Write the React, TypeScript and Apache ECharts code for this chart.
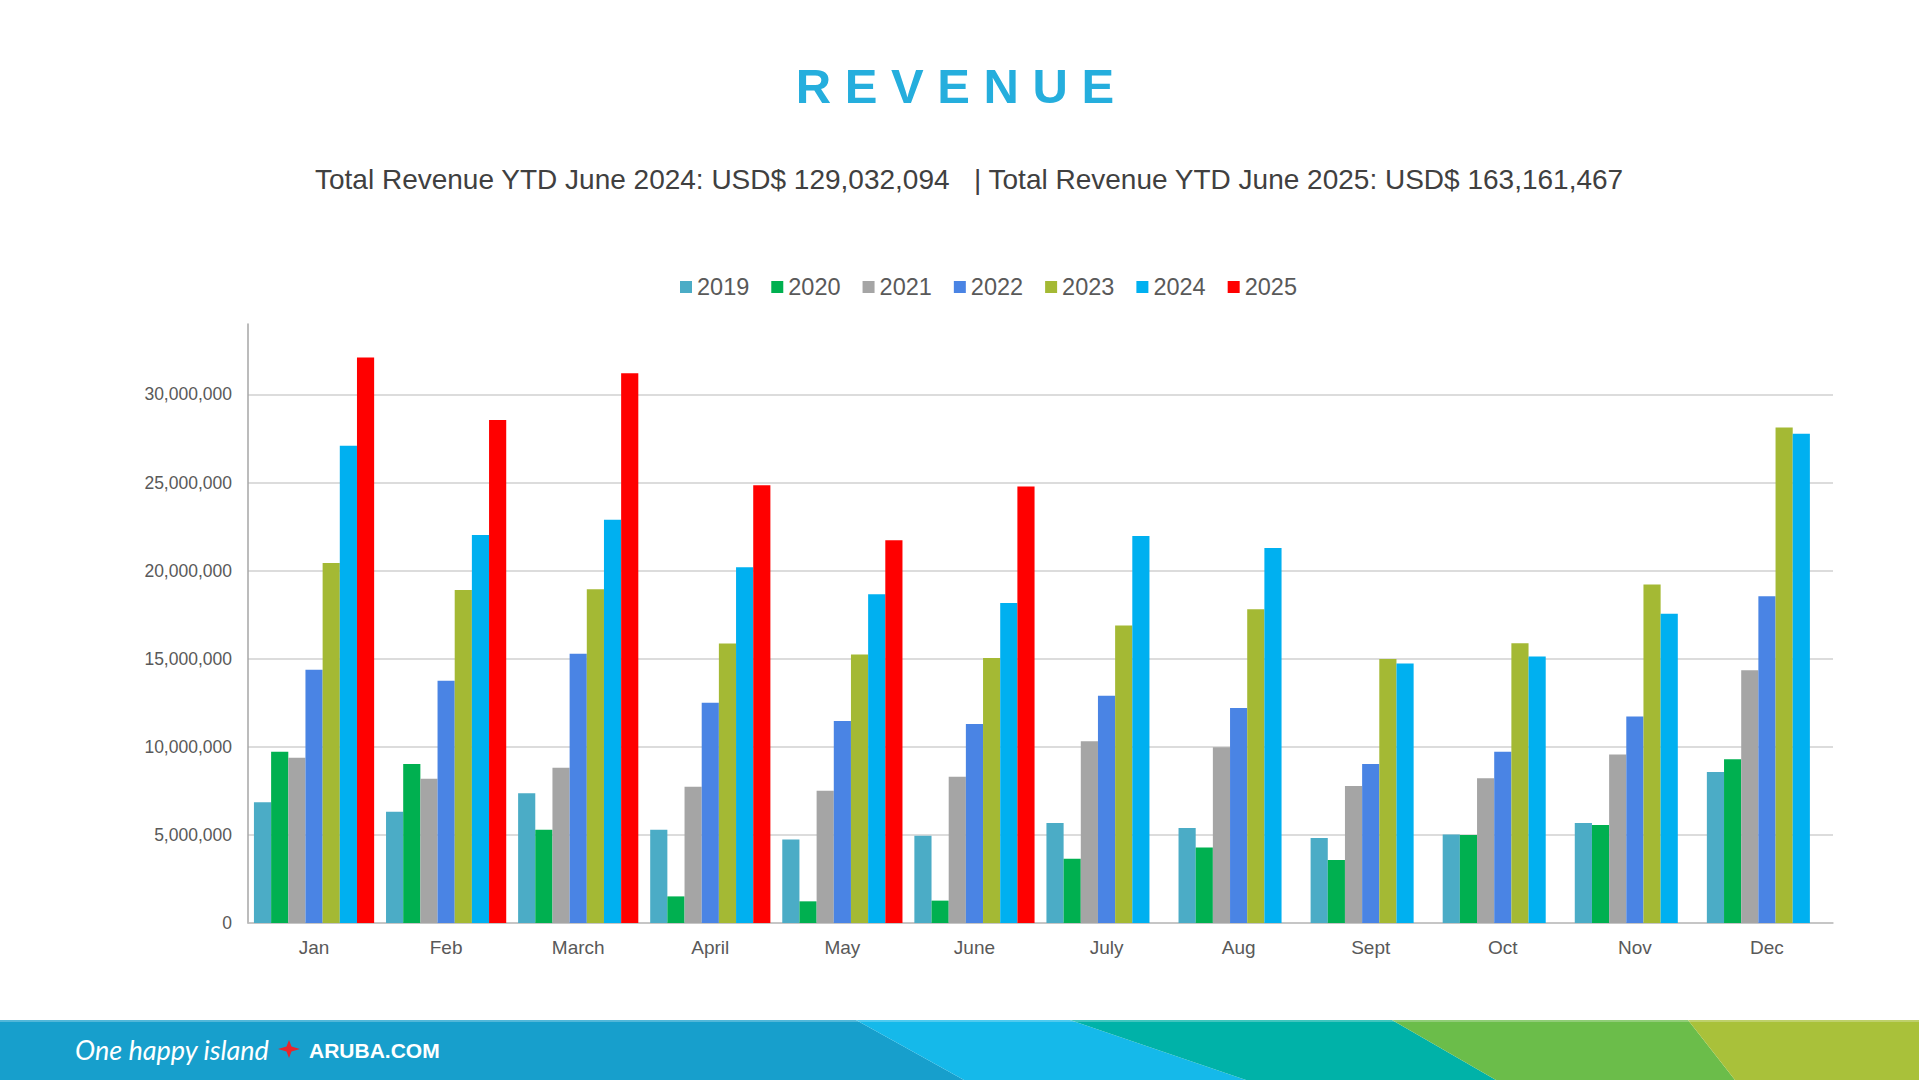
import React, { useEffect, useRef } from 'react';
import * as echarts from 'echarts';

const months = ['Jan', 'Feb', 'March', 'April', 'May', 'June', 'July', 'Aug', 'Sept', 'Oct', 'Nov', 'Dec'];
const years = ['2019', '2020', '2021', '2022', '2023', '2024', '2025'];
const colors = ['#4bacc6', '#00b050', '#a5a5a5', '#4a84e4', '#a4b934', '#00b0f0', '#ff0000'];

const rev2019 = [6860000, 6310000, 7370000, 5290000, 4740000, 4950000, 5670000, 5390000, 4820000, 5030000, 5670000, 8570000];
const rev2020 = [9720000, 9020000, 5290000, 1510000, 1230000, 1270000, 3650000, 4290000, 3570000, 4990000, 5560000, 9290000];
const rev2021 = [9380000, 8190000, 8810000, 7730000, 7500000, 8300000, 10310000, 9970000, 7770000, 8210000, 9570000, 14350000];
const rev2022 = [14380000, 13750000, 15280000, 12500000, 11460000, 11300000, 12900000, 12200000, 9020000, 9720000, 11720000, 18550000];
const rev2023 = [20430000, 18900000, 18940000, 15870000, 15240000, 15040000, 16890000, 17810000, 14980000, 15880000, 19210000, 28120000];
const rev2024 = [27090000, 22020000, 22890000, 20190000, 18660000, 18170000, 21960000, 21290000, 14730000, 15130000, 17550000, 27770000];
const rev2025 = [32100000, 28550000, 31210000, 24850000, 21720000, 24780000, null, null, null, null, null, null];

const seriesValues = [rev2019, rev2020, rev2021, rev2022, rev2023, rev2024, rev2025];

const titleText = 'R E V E N U E';
const subtitleLeft = 'Total Revenue YTD June 2024: USD$ 129,032,094';
const subtitleRight = '| Total Revenue YTD June 2025: USD$ 163,161,467';

const FONT = '"Liberation Sans", Arial, sans-serif';

export default function App() {
  const ref = useRef<HTMLDivElement>(null);

  useEffect(() => {
    const chart = echarts.init(ref.current as HTMLDivElement, null, { renderer: 'svg' });
    const option: any = {
      animation: false,
      backgroundColor: '#ffffff',
      textStyle: { fontFamily: FONT },
      legend: {
        data: years,
        left: 675,
        top: 270,
        icon: 'rect',
        itemWidth: 12,
        itemHeight: 12,
        itemGap: 22,
        textStyle: { color: '#595959', fontSize: 23.5, fontFamily: FONT },
      },
      grid: { left: 248, right: 86, top: 324, bottom: 157 },
      xAxis: {
        type: 'category',
        data: months,
        axisLine: { show: true, lineStyle: { color: '#bfbfbf', width: 1.5 } },
        axisTick: { show: false },
        axisLabel: { color: '#595959', fontSize: 19, margin: 15, fontFamily: FONT },
      },
      yAxis: {
        type: 'value',
        min: 0,
        max: 34000000,
        interval: 5000000,
        axisLine: { show: true, lineStyle: { color: '#a6a6a6', width: 1.5 } },
        axisTick: { show: false },
        axisLabel: {
          color: '#595959',
          fontSize: 17.5,
          margin: 16,
          fontFamily: FONT,
          formatter: (v: number) => (v % 5000000 === 0 ? v.toLocaleString('en-US') : ''),
        },
        splitLine: { show: true, showMaxLine: false, lineStyle: { color: '#d0d0d0', width: 1.5 } },
      },
      series: years.map((y, i) => ({
        type: 'bar',
        name: y,
        data: seriesValues[i],
        barGap: '0%',
        barCategoryGap: '9%',
        itemStyle: { color: colors[i] },
      })),
      graphic: [
        {
          type: 'text',
          x: 955,
          y: 86,
          style: {
            text: titleText,
            fontSize: 49,
            fontWeight: 'bold',
            fontFamily: FONT,
            fill: '#25aedd',
            align: 'center',
            textAlign: 'center',
            verticalAlign: 'middle',
            textVerticalAlign: 'middle',
          },
        },
        {
          type: 'text',
          x: 315,
          y: 179,
          style: {
            text: subtitleLeft,
            fontSize: 28,
            fontFamily: FONT,
            fill: '#404040',
            align: 'left',
            textAlign: 'left',
            verticalAlign: 'middle',
            textVerticalAlign: 'middle',
          },
        },
        {
          type: 'text',
          x: 974,
          y: 179,
          style: {
            text: subtitleRight,
            fontSize: 28,
            fontFamily: FONT,
            fill: '#404040',
            align: 'left',
            textAlign: 'left',
            verticalAlign: 'middle',
            textVerticalAlign: 'middle',
          },
        },
        {
          type: 'polygon',
          shape: { points: [[0, 1020], [856, 1020], [964, 1080], [0, 1080]] },
          style: { fill: '#179fcc' },
        },
        {
          type: 'polygon',
          shape: { points: [[856, 1020], [1070, 1020], [1246, 1080], [964, 1080]] },
          style: { fill: '#15b9ea' },
        },
        {
          type: 'polygon',
          shape: { points: [[1070, 1020], [1392, 1020], [1496, 1080], [1246, 1080]] },
          style: { fill: '#00b2a8' },
        },
        {
          type: 'polygon',
          shape: { points: [[1392, 1020], [1688, 1020], [1735, 1080], [1496, 1080]] },
          style: { fill: '#6bbd4a' },
        },
        {
          type: 'polygon',
          shape: { points: [[1688, 1020], [1919, 1020], [1919, 1080], [1735, 1080]] },
          style: { fill: '#a9c13a' },
        },
        {
          type: 'rect',
          shape: { x: 0, y: 1020, width: 1919, height: 2 },
          style: { fill: 'rgba(255,255,255,0.25)' },
        },
        {
          type: 'text',
          x: 75,
          y: 1049,
          style: {
            text: 'One happy island',
            fontSize: 27,
            fontStyle: 'italic',
            fontFamily: 'Lato, "Open Sans", sans-serif',
            fill: '#ffffff',
            align: 'left',
            textAlign: 'left',
            verticalAlign: 'middle',
            textVerticalAlign: 'middle',
          },
        },
        {
          type: 'polygon',
          shape: {
            points: [[289, 1040], [291.5, 1046.5], [300, 1049], [291.5, 1051.5], [289, 1058], [286.5, 1051.5], [278, 1049], [286.5, 1046.5]],
          },
          style: { fill: '#e8262b' },
        },
        {
          type: 'text',
          x: 309,
          y: 1050,
          style: {
            text: 'ARUBA.COM',
            fontSize: 21,
            fontWeight: 'bold',
            fontFamily: FONT,
            fill: '#ffffff',
            align: 'left',
            textAlign: 'left',
            verticalAlign: 'middle',
            textVerticalAlign: 'middle',
          },
        },
      ],
    };
    chart.setOption(option);
    return () => chart.dispose();
  }, []);

  return (
    <div
      ref={ref}
      style={{ position: 'fixed', left: 0, top: 0, width: '1919px', height: '1080px', background: '#ffffff' }}
    />
  );
}
